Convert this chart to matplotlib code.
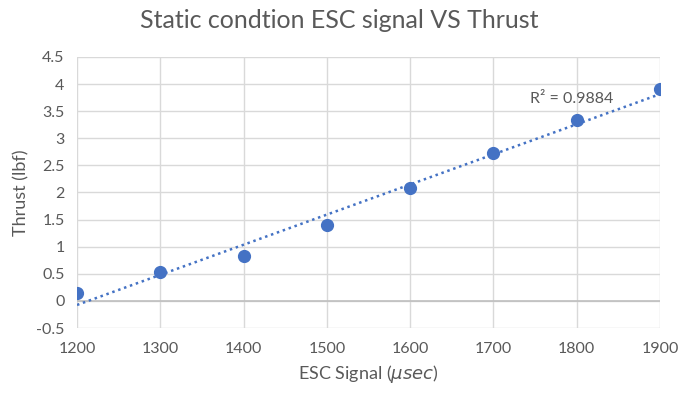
import numpy as np
import matplotlib
matplotlib.use("Agg")
import matplotlib.pyplot as plt

esc_signal = [1200, 1300, 1400, 1500, 1600, 1700, 1800, 1900]
thrust = [0.15, 0.53, 0.83, 1.40, 2.09, 2.72, 3.33, 3.91]
x_ticks = [1200, 1300, 1400, 1500, 1600, 1700, 1800, 1900]
y_ticks = [-0.5, 0, 0.5, 1, 1.5, 2, 2.5, 3, 3.5, 4, 4.5]
r2_label = "R² = 0.9884"

plt.rcParams['font.family'] = ['Lato', 'DejaVu Sans']
grey = '#595959'
blue = '#4472C4'

fig = plt.figure(figsize=(6.78, 3.94), dpi=100)
ax = fig.add_axes([77/678, 1-328/394, (660-77)/678, (328-57)/394])

x = np.array(esc_signal, dtype=float)
y = np.array(thrust, dtype=float)
m, b = np.polyfit(x, y, 1)
xt = np.array([x.min(), x.max()])
ax.plot(xt, m*xt + b, linestyle=(0, (1, 1.5)), color=blue, lw=1.8, zorder=3)
ax.plot(x, y, 'o', color=blue, ms=8.5, zorder=4)

ax.set_xlim(1200, 1900)
ax.set_ylim(-0.5, 4.5)
ax.set_xticks(x_ticks)
ax.set_yticks(y_ticks)
ax.set_yticklabels([f"{v:g}" for v in y_ticks])
ax.grid(True, color='#d9d9d9', lw=1)
ax.axhline(0, color='#bfbfbf', lw=1.2, zorder=2)
for s in ax.spines.values():
    s.set_visible(False)
ax.tick_params(length=0, labelsize=11.5, colors=grey, pad=10)
ax.tick_params(axis='y', pad=9)

ax.text(1744, 3.73, r2_label, fontsize=11.5, color=grey, va='center', ha='left', zorder=5)

ax.set_xlabel(r"ESC Signal ($\mu sec$)", fontsize=13, color=grey, labelpad=5)
ax.set_ylabel("Thrust (lbf)", fontsize=13, color=grey, labelpad=5)
fig.text(0.5, 1-20/394, "Static condtion ESC signal VS Thrust", fontsize=18, color=grey,
         ha='center', va='center')

fig.savefig("out.png", dpi=100, facecolor='white')
